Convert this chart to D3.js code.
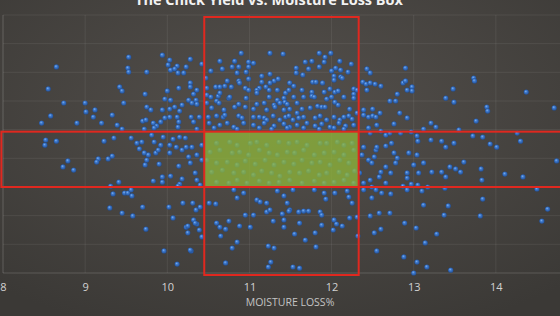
<!DOCTYPE html>
<html>
<head>
<meta charset="utf-8">
<script src="https://cdn.jsdelivr.net/npm/d3@7"></script>
<style>
  html, body { margin: 0; padding: 0; background: #45423f; overflow: hidden; }
  #viz svg { display: block; }
</style>
</head>
<body>
<div id="viz"></div>
<script>
// chart text
var title = "The Chick Yield vs. Moisture Loss Box";
var xLabel = "MOISTURE LOSS%";
var xTicks = [8, 9, 10, 11, 12, 13, 14];
var yTicks = [72, 73, 74, 75, 76, 77, 78, 79, 80, 81];

// box limits (moisture loss % and yield)
var moistureBox = [10.45, 12.33];
var yieldBox = [75.0, 76.93];

// scatter points
var moistureLoss = [
  9.53, 9.94, 10.03, 10.01, 10.12, 8.65, 9.52, 9.53, 9.75, 10.04, 10.09, 10.13, 10.20, 10.23,
  8.55, 9.42, 9.45, 10.00, 10.14, 9.73, 8.74, 9.00, 9.47, 9.97, 10.04, 10.09, 10.18,
  9.12, 9.01, 8.58, 9.10, 9.33, 9.75, 9.80, 9.94, 10.03, 10.15,
  8.47, 8.90, 9.20, 9.39, 9.70, 9.74, 9.83, 9.87, 9.92, 9.97, 10.03, 10.12, 10.14, 10.13,
  9.72, 9.84, 9.45, 8.52, 8.65, 9.23, 9.35, 9.56, 9.63, 9.69, 9.81, 9.84, 9.95, 10.07, 10.15, 10.22,
  8.51, 9.92, 10.03, 10.11, 10.18, 10.23, 9.66, 9.72, 9.77, 9.86, 9.89,
  9.16, 9.14, 9.28, 9.33, 8.79, 8.73, 8.86, 9.75, 9.73, 9.90, 10.03, 10.14,
  9.41, 9.83, 9.94, 9.94, 10.04, 10.18, 10.15, 10.13, 9.31,
  9.34, 9.48, 9.52, 9.57, 9.56, 9.30, 9.45, 9.58, 9.70, 10.02, 10.07, 10.19, 10.23,
  9.74, 9.96, 10.12, 10.29, 10.25, 10.25, 10.36, 10.39, 10.42,
  // upper part of the tall box
  10.90, 11.25, 11.41, 11.85, 11.99, 11.92, 10.28, 10.64, 10.82, 10.99, 11.05, 11.68, 11.76, 11.91, 12.10,
  10.42, 10.67, 10.79, 10.87, 10.99, 10.96, 10.53, 10.85, 11.57, 11.72, 11.85, 12.00, 12.05, 12.11, 12.24, 12.20, 12.43, 12.47,
  11.15, 11.25, 11.57, 11.65, 12.03, 12.11, 10.47, 10.73, 10.87, 10.99, 10.88, 10.28, 10.36, 10.28,
  11.15, 11.30, 11.35, 11.25, 11.49, 11.54, 11.77, 11.81, 11.89, 12.03, 12.13, 12.38, 12.42, 12.47,
  10.48, 10.59, 10.64, 10.70, 10.78, 10.95, 10.99, 11.12, 11.20, 11.09, 11.24,
  11.34, 11.44, 11.48, 11.64, 11.76, 11.91, 11.98, 12.04, 12.08, 12.27, 12.31, 12.43,
  10.32, 10.35, 10.48, 10.53, 10.62, 10.64, 10.75, 10.76, 10.96, 11.09, 11.24, 11.34, 11.42, 11.43,
  11.54, 11.66, 11.76, 11.79, 11.94, 12.00, 12.15, 12.27, 12.27,
  10.26, 10.30, 10.36, 10.48, 10.60, 10.63, 10.87, 11.09, 11.18, 11.30, 11.37, 11.46, 11.58,
  11.74, 11.83, 11.88, 11.92, 12.04, 12.08, 12.22, 12.39, 12.50,
  10.54, 10.69, 10.82, 10.95, 11.05, 11.21, 11.31, 11.42, 11.49, 11.58, 11.64,
  10.29, 10.39, 10.50, 10.60, 10.68, 10.70, 10.87, 10.91, 11.05, 11.12, 11.18, 11.21, 11.29,
  11.37, 11.44, 11.48, 11.53, 11.60, 11.66, 11.80, 11.86, 11.94, 12.03, 12.10, 12.15, 12.21, 12.25,
  12.31, 12.39, 12.45, 12.50,
  10.32, 10.51, 10.64, 10.73, 10.81, 10.93, 11.05, 11.18, 11.30, 11.42, 11.49, 11.58, 11.70, 11.80,
  11.88, 11.98, 12.09, 12.17, 12.27,
  10.36, 10.57, 10.85, 11.12, 11.27, 11.46, 11.66, 11.85, 12.03, 12.15, 12.45,
  // right side, upper
  12.90, 12.87, 12.90, 12.60, 12.53, 12.92, 12.98, 12.98, 12.80, 12.71, 12.78, 13.48, 13.73, 13.74,
  13.39, 13.49, 14.37, 14.71, 13.89, 13.90, 12.83, 12.59, 12.54, 12.92, 12.76, 12.55,
  13.21, 13.27, 13.12, 13.76, 12.97, 13.55, 12.60, 12.66, 12.84, 13.04, 13.21, 13.34, 13.49,
  13.72, 13.84, 14.26, 14.30, 13.93, 12.73, 13.05,
  // right side, lower
  12.66, 14.01, 13.39, 12.76, 12.80, 12.78, 12.94, 13.04, 13.00, 13.12, 14.74, 12.52, 12.54,
  12.60, 12.66, 12.72, 12.58, 12.92, 12.92, 13.06, 13.22, 13.34, 13.44, 13.51, 13.57, 13.61,
  13.39, 13.82, 14.11, 14.33, 13.83, 12.66, 12.87, 12.97, 13.05, 13.17, 12.54, 12.61, 12.72,
  12.92, 13.10, 13.38, 14.50, 13.84, 13.12, 13.42, 13.37, 13.81, 14.63, 14.56, 12.71, 12.58,
  12.89, 13.03, 13.28, 12.60, 12.52, 13.14, 12.55, 12.88, 13.04, 13.16, 13.00, 13.45,
  // inside the green box
  10.42, 10.60, 10.76, 10.85, 11.01, 11.09, 11.21, 11.36, 11.48, 11.58, 11.70, 11.86, 11.94, 12.07, 12.15, 12.25,
  10.52, 10.64, 10.79, 10.88, 10.99, 11.12, 11.24, 11.34, 11.46, 11.55, 11.66, 11.79, 11.91, 12.03, 12.15, 12.27,
  10.48, 10.60, 10.73, 10.85, 10.95, 11.07, 11.19, 11.30, 11.42, 11.54, 11.64, 11.76, 11.86, 11.98, 12.10, 12.21,
  10.54, 10.67, 10.81, 10.93, 11.05, 11.15, 11.27, 11.37, 11.49, 11.61, 11.72, 11.85, 11.94, 12.09, 12.19, 12.28,
  10.60, 10.75, 10.85, 10.97, 11.12, 11.24, 11.36, 11.49, 11.64, 11.79, 11.91, 12.03, 12.15, 12.27,
  // edges of the green box
  10.30, 10.36, 10.42, 10.34, 10.36, 10.40, 10.28, 10.26,
  12.39, 12.45, 12.49, 12.37, 12.34, 12.39, 12.49, 12.47,
  // lower part of the tall box
  10.81, 10.85, 10.93, 11.09, 11.13, 11.21, 11.34, 11.42, 11.46, 11.49, 11.53, 11.79, 11.91, 11.93,
  12.04, 12.19, 12.21, 12.25, 12.39, 12.49, 10.51, 10.59, 10.31, 10.35, 10.40, 10.32, 10.34,
  10.95, 11.05, 11.21, 11.25, 11.40, 11.48, 11.60, 11.66, 11.72, 11.86, 11.88, 12.22, 12.47, 12.31,
  10.60, 10.64, 10.75, 10.71, 10.88, 11.01, 11.29, 11.42, 11.42, 11.61, 11.88, 12.03, 12.06, 12.13,
  12.02, 11.80, 11.55, 10.65, 10.85, 10.79, 11.23, 11.30, 11.68, 11.81, 10.28, 12.32,
  10.71, 11.23, 11.26, 11.53, 11.61,
  12.47, 12.55, 12.71
];

var chickYield = [
  79.53, 79.60, 79.43, 79.26, 79.22, 79.19, 79.15, 79.01, 79.01, 79.08, 79.12, 78.98, 78.98, 79.19,
  78.42, 78.49, 78.35, 78.35, 78.45, 78.24, 77.93, 77.93, 77.93, 78.07, 78.03, 77.79, 77.86,
  77.69, 77.62, 77.48, 77.44, 77.51, 77.79, 77.69, 77.69, 77.72, 77.65,
  77.23, 77.23, 77.23, 77.16, 77.30, 77.34, 77.23, 77.13, 77.27, 77.41, 77.44, 77.44, 77.27, 77.09,
  77.02, 77.06, 77.02, 76.64, 76.60, 76.60, 76.71, 76.71, 76.53, 76.57, 76.81, 76.57, 76.74, 76.67, 76.74, 76.71,
  76.46, 76.46, 76.46, 76.39, 76.29, 76.39, 76.33, 76.19, 76.12, 76.19, 76.29,
  75.98, 75.87, 75.98, 76.08, 75.91, 75.70, 75.59, 75.94, 75.77, 75.80, 76.19, 75.73,
  75.17, 75.21, 75.35, 75.17, 75.38, 75.28, 75.10, 75.03, 75.03,
  74.76, 74.79, 74.79, 74.69, 74.90, 74.27, 74.09, 73.99, 74.30, 74.30, 73.92, 74.44, 73.60,
  73.53, 72.77, 72.31, 72.77, 73.64, 73.40, 73.71, 73.50, 73.26,
  // upper part of the tall box
  79.67, 79.67, 79.64, 79.67, 79.67, 79.53, 79.46, 79.39, 79.39, 79.36, 79.32, 79.36, 79.39, 79.36, 79.39,
  79.29, 79.12, 79.19, 79.19, 79.19, 79.01, 79.05, 78.98, 79.15, 79.12, 79.19, 79.05, 79.15, 79.08, 79.29, 79.01, 79.12, 78.98,
  78.87, 78.94, 78.98, 78.91, 78.87, 78.84, 78.80, 78.70, 78.70, 78.77, 78.63, 78.63, 78.38, 78.49,
  78.66, 78.70, 78.77, 78.63, 78.63, 78.52, 78.66, 78.66, 78.63, 78.73, 78.80, 78.66, 78.59, 78.63,
  78.45, 78.49, 78.49, 78.52, 78.49, 78.45, 78.38, 78.45, 78.49, 78.38, 78.38,
  78.38, 78.28, 78.38, 78.38, 78.31, 78.31, 78.42, 78.31, 78.35, 78.42, 78.38, 78.38,
  78.24, 78.03, 78.21, 78.14, 78.17, 78.28, 78.10, 78.14, 78.10, 78.28, 78.14, 78.03, 78.10, 77.96,
  78.14, 78.14, 78.17, 78.14, 78.07, 78.14, 78.14, 78.24, 78.10,
  78.03, 77.93, 77.89, 77.93, 78.00, 77.93, 77.89, 77.89, 77.93, 77.86, 77.93, 77.89, 77.93,
  77.76, 77.82, 77.79, 77.79, 77.96, 77.86, 77.72, 77.69, 77.72,
  77.76, 77.69, 77.79, 77.79, 77.72, 77.69, 77.79, 77.69, 77.72, 77.58, 77.72,
  77.44, 77.44, 77.44, 77.48, 77.44, 77.51, 77.48, 77.41, 77.44, 77.44, 77.41, 77.34, 77.48,
  77.34, 77.44, 77.48, 77.34, 77.41, 77.44, 77.41, 77.48, 77.34, 77.44, 77.34, 77.44, 77.48, 77.37,
  77.58, 77.51, 77.44, 77.48,
  77.27, 77.23, 77.16, 77.23, 77.09, 77.23, 77.16, 77.23, 77.13, 77.20, 77.09, 77.16, 77.23, 77.13,
  77.20, 77.09, 77.23, 77.13, 77.16,
  77.02, 77.06, 77.02, 77.06, 77.02, 77.06, 77.06, 77.02, 77.06, 77.02, 77.06,
  // right side, upper
  79.15, 78.63, 78.70, 78.52, 78.59, 78.38, 78.49, 78.35, 78.24, 78.00, 78.00, 78.42, 78.80, 78.70,
  78.10, 77.96, 78.31, 77.76, 77.79, 77.65, 77.58, 77.58, 77.44, 77.41, 77.20, 77.16,
  77.23, 77.09, 77.02, 77.30, 76.92, 76.99, 76.95, 76.81, 76.88, 76.78, 76.64, 76.60, 76.53,
  76.78, 76.74, 76.88, 76.60, 76.50, 76.53, 76.60,
  // right side, lower
  76.43, 76.39, 76.39, 76.19, 76.01, 75.84, 76.19, 76.12, 75.77, 75.84, 75.91, 76.05, 76.29,
  75.52, 75.70, 75.49, 75.35, 75.49, 75.31, 75.49, 75.52, 75.52, 75.70, 75.63, 75.52, 75.87,
  75.35, 75.63, 75.45, 75.35, 75.24, 75.14, 75.03, 75.10, 75.07, 75.00, 74.90, 74.79, 74.76,
  74.90, 74.86, 74.96, 74.93, 74.58, 74.37, 74.34, 74.02, 73.99, 74.23, 73.81, 74.09, 74.09,
  73.74, 73.57, 73.36, 73.53, 73.40, 73.05, 72.77, 72.56, 72.38, 72.21, 72.00, 72.10,
  // inside the green box
  76.46, 76.53, 76.57, 76.46, 76.53, 76.57, 76.46, 76.57, 76.53, 76.57, 76.46, 76.53, 76.53, 76.57, 76.46, 76.53,
  76.22, 76.29, 76.19, 76.22, 76.12, 76.29, 76.19, 76.12, 76.22, 76.19, 76.29, 76.12, 76.19, 76.22, 76.12, 76.29,
  75.94, 75.84, 75.87, 75.77, 75.91, 75.80, 75.94, 75.77, 75.87, 75.80, 75.94, 75.84, 75.87, 75.77, 75.94, 75.84,
  75.52, 75.59, 75.49, 75.52, 75.42, 75.56, 75.49, 75.38, 75.52, 75.49, 75.56, 75.42, 75.49, 75.52, 75.42, 75.56,
  75.17, 75.14, 75.24, 75.14, 75.21, 75.14, 75.17, 75.24, 75.14, 75.21, 75.14, 75.17, 75.24, 75.14,
  // edges of the green box
  76.39, 76.12, 75.94, 75.49, 75.24, 75.07, 75.84, 76.05,
  76.39, 75.94, 75.84, 76.12, 75.49, 75.14, 75.00, 75.24,
  // lower part of the tall box
  74.90, 74.62, 74.79, 74.55, 74.48, 74.44, 74.86, 74.69, 74.44, 74.20, 74.90, 74.90, 74.79, 74.58,
  74.79, 74.86, 74.65, 74.44, 74.90, 74.62, 74.44, 74.41, 74.44, 74.20, 74.30, 73.85, 73.74,
  74.02, 74.02, 74.13, 74.20, 74.06, 74.16, 74.13, 74.16, 74.16, 74.13, 74.02, 73.92, 73.99, 73.95,
  73.74, 73.60, 73.81, 73.53, 73.64, 73.60, 73.81, 73.85, 73.60, 73.74, 73.67, 73.85, 73.71, 73.64,
  73.50, 73.40, 73.36, 73.29, 73.08, 72.87, 72.94, 72.87, 73.15, 72.91, 72.80, 73.29,
  72.35, 72.21, 72.38, 72.21, 72.17,
  76.88, 76.39, 76.88
];

var data = moistureLoss.map((m, i) => ({ moisture: m, yield: chickYield[i] }));

// set the dimensions and margins of the graph
var margin = { top: 15, right: 0, bottom: 43, left: 3 },
    width = 575,
    height = 258;

var svg = d3.select("#viz")
  .append("svg")
  .attr("width", 560)
  .attr("height", 316);

var defs = svg.append("defs");

// background gradient
var bg = defs.append("radialGradient")
  .attr("id", "bg")
  .attr("cx", "50%").attr("cy", "35%").attr("r", "75%");
bg.append("stop").attr("offset", "0%").attr("stop-color", "#54504c");
bg.append("stop").attr("offset", "100%").attr("stop-color", "#3b3936");

// shaded ball for the points
var ball = defs.append("radialGradient")
  .attr("id", "ball")
  .attr("cx", "50%").attr("cy", "50%").attr("r", "55%")
  .attr("fx", "38%").attr("fy", "32%");
ball.append("stop").attr("offset", "0%").attr("stop-color", "#86b6ee");
ball.append("stop").attr("offset", "40%").attr("stop-color", "#3f7bcf");
ball.append("stop").attr("offset", "100%").attr("stop-color", "#1e4a90");

svg.append("rect")
  .attr("width", 560)
  .attr("height", 316)
  .attr("fill", "url(#bg)");

// title (sits mostly above the top edge)
svg.append("text")
  .attr("x", 269)
  .attr("y", 5)
  .attr("text-anchor", "middle")
  .style("font-family", "'Open Sans', sans-serif")
  .style("font-weight", "bold")
  .style("font-size", "14.5px")
  .attr("fill", "#f2f2f2")
  .text(title);

var g = svg.append("g")
  .attr("transform", "translate(" + margin.left + "," + margin.top + ")");

var x = d3.scaleLinear().domain([8, 15]).range([0, width]);
var y = d3.scaleLinear().domain([72, 81]).range([height, 0]);

// grid lines
g.append("g")
  .selectAll("line.vgrid")
  .data(d3.range(8, 16))
  .enter().append("line")
  .attr("x1", d => x(d)).attr("x2", d => x(d))
  .attr("y1", 0).attr("y2", height)
  .attr("stroke", "#ffffff")
  .attr("stroke-opacity", d => d === 8 ? 0.18 : 0.07);

g.append("g")
  .selectAll("line.hgrid")
  .data(yTicks)
  .enter().append("line")
  .attr("x1", 0).attr("x2", width)
  .attr("y1", d => y(d)).attr("y2", d => y(d))
  .attr("stroke", "#ffffff")
  .attr("stroke-opacity", d => d === 72 ? 0.16 : 0.07);

// x axis labels
var xAxis = d3.axisBottom(x).tickValues(xTicks).tickFormat(d3.format("d")).tickSize(0).tickPadding(10);
var ax = g.append("g")
  .attr("transform", "translate(0," + height + ")")
  .call(xAxis);
ax.select(".domain").remove();
ax.selectAll("text")
  .style("font-family", "'Open Sans', sans-serif")
  .style("font-size", "11px")
  .attr("fill", "#d2d2d2");

svg.append("text")
  .attr("x", 290)
  .attr("y", 306)
  .attr("text-anchor", "middle")
  .style("font-family", "'Open Sans', sans-serif")
  .style("font-size", "10.5px")
  .attr("fill", "#c4c4c4")
  .text(xLabel);

// points
g.append("g")
  .selectAll("circle")
  .data(data)
  .enter().append("circle")
  .attr("cx", d => x(d.moisture))
  .attr("cy", d => y(d.yield))
  .attr("r", 2.6)
  .attr("fill", "url(#ball)");

// green overlap box
g.append("rect")
  .attr("x", x(moistureBox[0]))
  .attr("y", y(yieldBox[1]))
  .attr("width", x(moistureBox[1]) - x(moistureBox[0]))
  .attr("height", y(yieldBox[0]) - y(yieldBox[1]))
  .attr("fill", "#8db43a")
  .attr("fill-opacity", 0.78);

// red boxes
g.append("rect")
  .attr("x", x(moistureBox[0]))
  .attr("y", y(80.93))
  .attr("width", x(moistureBox[1]) - x(moistureBox[0]))
  .attr("height", y(71.93) - y(80.93))
  .attr("fill", "none")
  .attr("stroke", "#e0281f")
  .attr("stroke-width", 2);

g.append("rect")
  .attr("x", x(7.98))
  .attr("y", y(yieldBox[1]))
  .attr("width", x(15.2) - x(7.98))
  .attr("height", y(yieldBox[0]) - y(yieldBox[1]))
  .attr("fill", "none")
  .attr("stroke", "#e0281f")
  .attr("stroke-width", 2);
</script>
</body>
</html>
